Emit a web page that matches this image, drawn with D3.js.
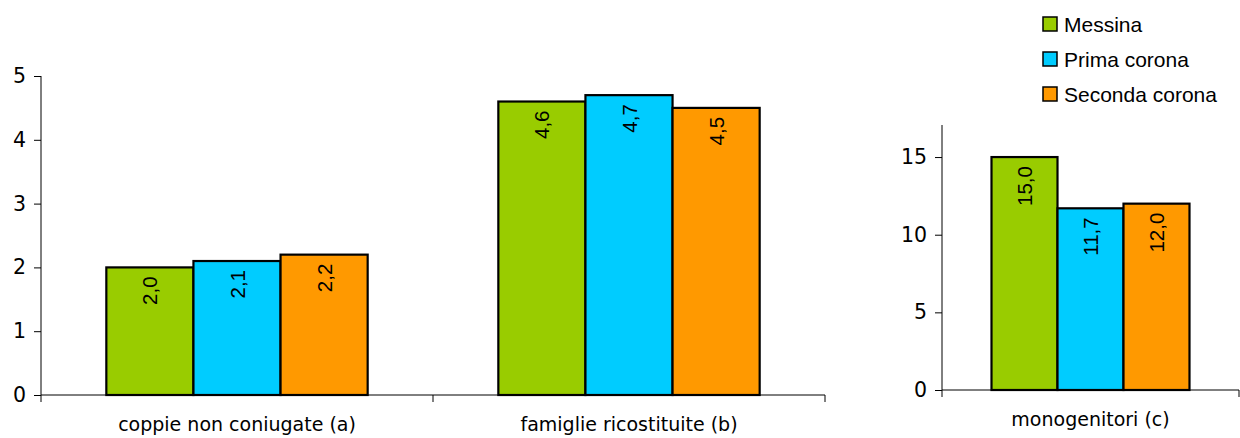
<!DOCTYPE html>
<html>
<head>
<meta charset="utf-8">
<script src="https://cdn.jsdelivr.net/npm/d3@7"></script>
<style>
  body { margin: 0; background: #fff; }
  svg text { fill: #000; }
</style>
</head>
<body>
<div id="chart"></div>
<script>
var svgWidth = 1240;
var svgHeight = 438;

// data
var series = ["Messina", "Prima corona", "Seconda corona"];
var colors = ["#99cc00", "#00ccff", "#ff9900"];
var leftCategories = ["coppie non coniugate (a)", "famiglie ricostituite (b)"];
var leftValues = [
  [2.0, 2.1, 2.2],
  [4.6, 4.7, 4.5]
];
var leftTicks = [0, 1, 2, 3, 4, 5];
var rightCategories = ["monogenitori (c)"];
var rightValues = [
  [15.0, 11.7, 12.0]
];
var rightTicks = [0, 5, 10, 15];

var fmt = d => d.toFixed(1).replace(".", ",");

var svg = d3.select("#chart")
  .append("svg")
  .attr("width", svgWidth)
  .attr("height", svgHeight);

function drawPanel(opts) {
  var g = svg.append("g");

  var x0 = d3.scaleBand()
    .domain(opts.categories)
    .range([opts.x0, opts.x1])
    .paddingInner(0)
    .paddingOuter(0);

  var x1 = d3.scaleBand()
    .domain(series)
    .range([0, x0.bandwidth()])
    .paddingInner(0)
    .paddingOuter(0.75);

  var y = d3.scaleLinear()
    .domain(opts.domain)
    .range([opts.yBottom, opts.yTop]);

  // category groups + bars
  var groups = g.selectAll("g.cat")
    .data(opts.values)
    .enter()
    .append("g")
    .attr("class", "cat")
    .attr("transform", (d, i) => `translate(${x0(opts.categories[i])},0)`);

  groups.selectAll("rect")
    .data(d => d.map((v, j) => ({ key: series[j], value: v, color: colors[j] })))
    .enter()
    .append("rect")
    .attr("x", d => x1(d.key))
    .attr("y", d => y(d.value))
    .attr("width", x1.bandwidth())
    .attr("height", d => y(0) - y(d.value))
    .attr("fill", d => d.color)
    .attr("stroke", "#000")
    .attr("stroke-width", 2.2);

  groups.selectAll("text.val")
    .data(d => d.map((v, j) => ({ key: series[j], value: v })))
    .enter()
    .append("text")
    .attr("class", "val")
    .attr("transform", d => `translate(${x1(d.key) + x1.bandwidth() / 2 + 7.5},${y(d.value) + 9}) rotate(-90)`)
    .attr("text-anchor", "end")
    .style("font-family", "'Liberation Sans', Arial, sans-serif")
    .style("font-size", "20.5px")
    .text(d => fmt(d.value));

  // y axis
  var yAxis = g.append("g")
    .attr("transform", `translate(${opts.x0},0)`)
    .call(d3.axisLeft(y).tickValues(opts.ticks).tickSize(7).tickPadding(8).tickFormat(d3.format("d")));
  yAxis.select(".domain").attr("d", `M0,${opts.yTopLine}V${opts.yBottom}`).attr("stroke", "#000");
  yAxis.selectAll("text")
    .style("font-family", "'DejaVu Sans', Verdana, sans-serif")
    .style("font-size", "20.5px")
    .attr("fill", "#000");

  // x axis
  var xAxis = g.append("g")
    .attr("transform", `translate(0,${opts.yBottom})`)
    .call(d3.axisBottom(x0).tickSize(0).tickPadding(23));
  xAxis.select(".domain").attr("d", `M${opts.x0},0H${opts.x1}`).attr("stroke", "#000");
  xAxis.selectAll("text")
    .style("font-family", "'DejaVu Sans', Verdana, sans-serif")
    .style("font-size", "19px")
    .attr("fill", "#000");

  // category separators
  var seps = [opts.x0].concat(opts.categories.map(c => x0(c) + x0.bandwidth()));
  g.selectAll("line.sep")
    .data(seps)
    .enter()
    .append("line")
    .attr("class", "sep")
    .attr("x1", d => d)
    .attr("x2", d => d)
    .attr("y1", opts.yBottom)
    .attr("y2", opts.yBottom + 7)
    .attr("stroke", "#000");
}

drawPanel({
  categories: leftCategories,
  values: leftValues,
  domain: [0, 5],
  ticks: leftTicks,
  x0: 41, x1: 825,
  yBottom: 395, yTop: 76, yTopLine: 76
});

drawPanel({
  categories: rightCategories,
  values: rightValues,
  domain: [0, 17],
  ticks: rightTicks,
  x0: 942, x1: 1239,
  yBottom: 390, yTop: 126, yTopLine: 125
});

// legend
var legend = svg.append("g")
  .attr("transform", "translate(1043,17)");

var items = legend.selectAll("g")
  .data(series)
  .enter()
  .append("g")
  .attr("transform", (d, i) => `translate(0,${i * 35})`);

items.append("rect")
  .attr("width", 14)
  .attr("height", 14)
  .attr("fill", (d, i) => colors[i])
  .attr("stroke", "#000")
  .attr("stroke-width", 1.5);

items.append("text")
  .attr("x", 21)
  .attr("y", 7)
  .attr("dy", "0.36em")
  .style("font-family", "'Liberation Sans', Arial, sans-serif")
  .style("font-size", "21px")
  .text(d => d);
</script>
</body>
</html>
